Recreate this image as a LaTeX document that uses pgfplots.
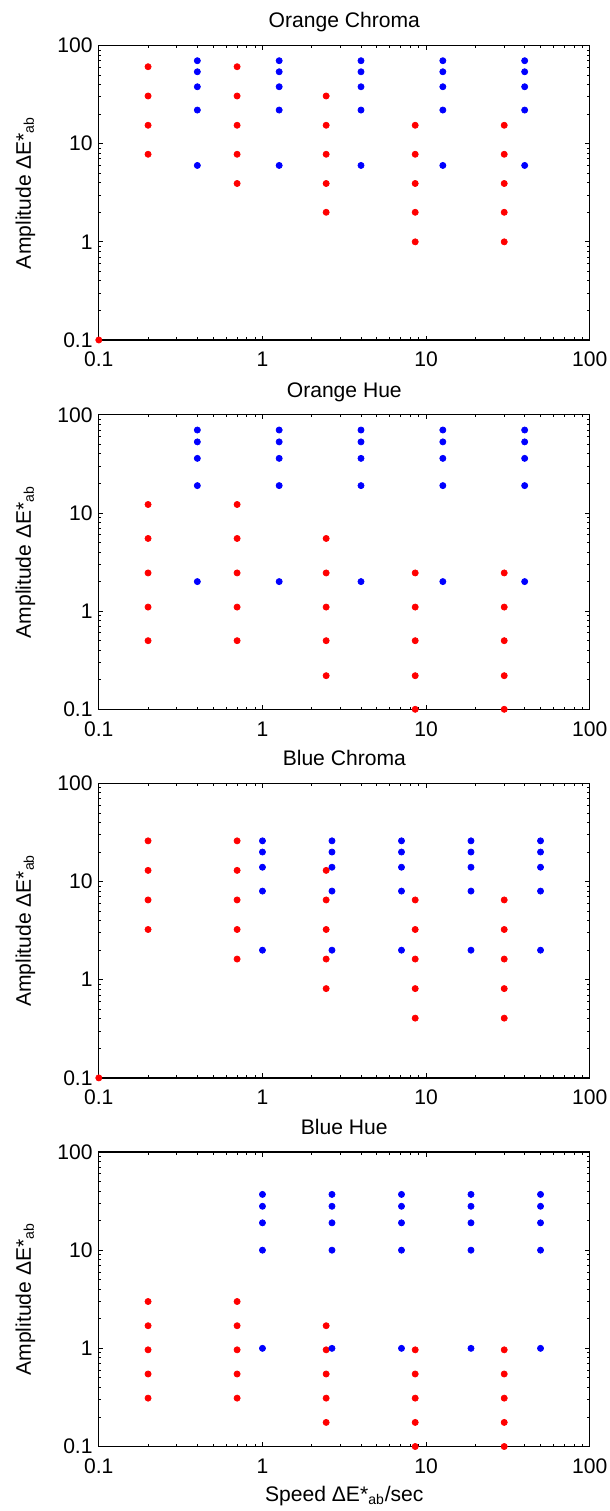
\documentclass[border=0pt]{standalone}
\usepackage{fontspec}
\setmainfont{Liberation Sans}
\usepackage{pgfplots}
\pgfplotsset{compat=1.18}

\begin{document}
\begin{tikzpicture}[font=\fontsize{12}{14}\selectfont]
\useasboundingbox (0,0) rectangle (12.18,-30.22);

% Orange Chroma
\begin{axis}[
    xmode=log, ymode=log,
    scale only axis, width=9.82cm, height=5.89cm,
    anchor=north west, at={(1.976cm,-0.91cm)},
    xmin=0.1, xmax=100, ymin=0.1, ymax=100,
    xtick={0.1,1,10,100}, xticklabels={0.1,1,10,100},
    ytick={0.1,1,10,100}, yticklabels={0.1,1,10,100},
    minor xtick={0.2,0.3,0.4,0.5,0.6,0.7,0.8,0.9,2,3,4,5,6,7,8,9,20,30,40,50,60,70,80,90},
    minor ytick={0.2,0.3,0.4,0.5,0.6,0.7,0.8,0.9,2,3,4,5,6,7,8,9,20,30,40,50,60,70,80,90},
    major tick length=0.09cm, minor tick length=0.05cm,
    tick style={black, line width=0.5pt},
    axis line style={line width=0.7pt},
    xticklabel style={anchor=base, yshift=-0.54cm},
    title style={at={(axis description cs:0.5,1.024)}, anchor=base},
    ylabel style={at={(axis description cs:-0.1385,0.5)}, anchor=base},
    title={Orange Chroma},
    ylabel={Amplitude ΔE*\textsubscript{ab}},
]
\addplot[only marks, mark=*, mark size=1.75pt, color=red] coordinates {
  (0.2,60.8) (0.2,30.6) (0.2,15.4) (0.2,7.8)
  (0.7,60.8) (0.7,30.6) (0.7,15.4) (0.7,7.8) (0.7,3.93)
  (2.45,30.6) (2.45,15.4) (2.45,7.8) (2.45,3.93) (2.45,2)
  (8.575,15.4) (8.575,7.8) (8.575,3.93) (8.575,2) (8.575,1)
  (30,15.4) (30,7.8) (30,3.93) (30,2) (30,1)
  (0.1,0.1)
};
\addplot[only marks, mark=*, mark size=1.75pt, color=blue] coordinates {
  (0.4,70) (0.4,54) (0.4,38) (0.4,22) (0.4,6)
  (1.265,70) (1.265,54) (1.265,38) (1.265,22) (1.265,6)
  (4,70) (4,54) (4,38) (4,22) (4,6)
  (12.65,70) (12.65,54) (12.65,38) (12.65,22) (12.65,6)
  (40,70) (40,54) (40,38) (40,22) (40,6)
};
\end{axis}

% Orange Hue
\begin{axis}[
    xmode=log, ymode=log,
    scale only axis, width=9.82cm, height=5.89cm,
    anchor=north west, at={(1.976cm,-8.296cm)},
    xmin=0.1, xmax=100, ymin=0.1, ymax=100,
    xtick={0.1,1,10,100}, xticklabels={0.1,1,10,100},
    ytick={0.1,1,10,100}, yticklabels={0.1,1,10,100},
    minor xtick={0.2,0.3,0.4,0.5,0.6,0.7,0.8,0.9,2,3,4,5,6,7,8,9,20,30,40,50,60,70,80,90},
    minor ytick={0.2,0.3,0.4,0.5,0.6,0.7,0.8,0.9,2,3,4,5,6,7,8,9,20,30,40,50,60,70,80,90},
    major tick length=0.09cm, minor tick length=0.05cm,
    tick style={black, line width=0.5pt},
    axis line style={line width=0.7pt},
    xticklabel style={anchor=base, yshift=-0.54cm},
    title style={at={(axis description cs:0.5,1.024)}, anchor=base},
    ylabel style={at={(axis description cs:-0.1385,0.5)}, anchor=base},
    title={Orange Hue},
    ylabel={Amplitude ΔE*\textsubscript{ab}},
]
\addplot[only marks, mark=*, mark size=1.75pt, color=red] coordinates {
  (0.2,12.2) (0.2,5.5) (0.2,2.45) (0.2,1.1) (0.2,0.5)
  (0.7,12.2) (0.7,5.5) (0.7,2.45) (0.7,1.1) (0.7,0.5)
  (2.45,5.5) (2.45,2.45) (2.45,1.1) (2.45,0.5) (2.45,0.22)
  (8.575,2.45) (8.575,1.1) (8.575,0.5) (8.575,0.22) (8.575,0.1)
  (30,2.45) (30,1.1) (30,0.5) (30,0.22) (30,0.1)
};
\addplot[only marks, mark=*, mark size=1.75pt, color=blue] coordinates {
  (0.4,70) (0.4,53) (0.4,36) (0.4,19) (0.4,2)
  (1.265,70) (1.265,53) (1.265,36) (1.265,19) (1.265,2)
  (4,70) (4,53) (4,36) (4,19) (4,2)
  (12.65,70) (12.65,53) (12.65,36) (12.65,19) (12.65,2)
  (40,70) (40,53) (40,36) (40,19) (40,2)
};
\end{axis}

% Blue Chroma
\begin{axis}[
    xmode=log, ymode=log,
    scale only axis, width=9.82cm, height=5.89cm,
    anchor=north west, at={(1.976cm,-15.668cm)},
    xmin=0.1, xmax=100, ymin=0.1, ymax=100,
    xtick={0.1,1,10,100}, xticklabels={0.1,1,10,100},
    ytick={0.1,1,10,100}, yticklabels={0.1,1,10,100},
    minor xtick={0.2,0.3,0.4,0.5,0.6,0.7,0.8,0.9,2,3,4,5,6,7,8,9,20,30,40,50,60,70,80,90},
    minor ytick={0.2,0.3,0.4,0.5,0.6,0.7,0.8,0.9,2,3,4,5,6,7,8,9,20,30,40,50,60,70,80,90},
    major tick length=0.09cm, minor tick length=0.05cm,
    tick style={black, line width=0.5pt},
    axis line style={line width=0.7pt},
    xticklabel style={anchor=base, yshift=-0.54cm},
    title style={at={(axis description cs:0.5,1.024)}, anchor=base},
    ylabel style={at={(axis description cs:-0.1385,0.5)}, anchor=base},
    title={Blue Chroma},
    ylabel={Amplitude ΔE*\textsubscript{ab}},
]
\addplot[only marks, mark=*, mark size=1.75pt, color=red] coordinates {
  (0.2,26) (0.2,13) (0.2,6.5) (0.2,3.25)
  (0.7,26) (0.7,13) (0.7,6.5) (0.7,3.25) (0.7,1.625)
  (2.45,13) (2.45,6.5) (2.45,3.25) (2.45,1.625) (2.45,0.8125)
  (8.575,6.5) (8.575,3.25) (8.575,1.625) (8.575,0.8125) (8.575,0.40625)
  (30,6.5) (30,3.25) (30,1.625) (30,0.8125) (30,0.40625)
  (0.1,0.1)
};
\addplot[only marks, mark=*, mark size=1.75pt, color=blue] coordinates {
  (1,26) (1,20) (1,14) (1,8) (1,2)
  (2.659,26) (2.659,20) (2.659,14) (2.659,8) (2.659,2)
  (7.071,26) (7.071,20) (7.071,14) (7.071,8) (7.071,2)
  (18.8,26) (18.8,20) (18.8,14) (18.8,8) (18.8,2)
  (50,26) (50,20) (50,14) (50,8) (50,2)
};
\end{axis}

% Blue Hue
\begin{axis}[
    xmode=log, ymode=log,
    scale only axis, width=9.82cm, height=5.89cm,
    anchor=north west, at={(1.976cm,-23.04cm)},
    xmin=0.1, xmax=100, ymin=0.1, ymax=100,
    xtick={0.1,1,10,100}, xticklabels={0.1,1,10,100},
    ytick={0.1,1,10,100}, yticklabels={0.1,1,10,100},
    minor xtick={0.2,0.3,0.4,0.5,0.6,0.7,0.8,0.9,2,3,4,5,6,7,8,9,20,30,40,50,60,70,80,90},
    minor ytick={0.2,0.3,0.4,0.5,0.6,0.7,0.8,0.9,2,3,4,5,6,7,8,9,20,30,40,50,60,70,80,90},
    major tick length=0.09cm, minor tick length=0.05cm,
    tick style={black, line width=0.5pt},
    axis line style={line width=0.7pt},
    xticklabel style={anchor=base, yshift=-0.54cm},
    title style={at={(axis description cs:0.5,1.024)}, anchor=base},
    ylabel style={at={(axis description cs:-0.1385,0.5)}, anchor=base},
    xlabel style={at={(axis description cs:0.5,-0.187)}, anchor=base},
    title={Blue Hue},
    ylabel={Amplitude ΔE*\textsubscript{ab}},
    xlabel={Speed ΔE*\textsubscript{ab}/sec},
]
\addplot[only marks, mark=*, mark size=1.75pt, color=red] coordinates {
  (0.2,3) (0.2,1.7) (0.2,0.966) (0.2,0.548) (0.2,0.311)
  (0.7,3) (0.7,1.7) (0.7,0.966) (0.7,0.548) (0.7,0.311)
  (2.45,1.7) (2.45,0.966) (2.45,0.548) (2.45,0.311) (2.45,0.176)
  (8.575,0.966) (8.575,0.548) (8.575,0.311) (8.575,0.176) (8.575,0.1)
  (30,0.966) (30,0.548) (30,0.311) (30,0.176) (30,0.1)
};
\addplot[only marks, mark=*, mark size=1.75pt, color=blue] coordinates {
  (1,37) (1,28) (1,19) (1,10) (1,1)
  (2.659,37) (2.659,28) (2.659,19) (2.659,10) (2.659,1)
  (7.071,37) (7.071,28) (7.071,19) (7.071,10) (7.071,1)
  (18.8,37) (18.8,28) (18.8,19) (18.8,10) (18.8,1)
  (50,37) (50,28) (50,19) (50,10) (50,1)
};
\end{axis}
\end{tikzpicture}
\end{document}
